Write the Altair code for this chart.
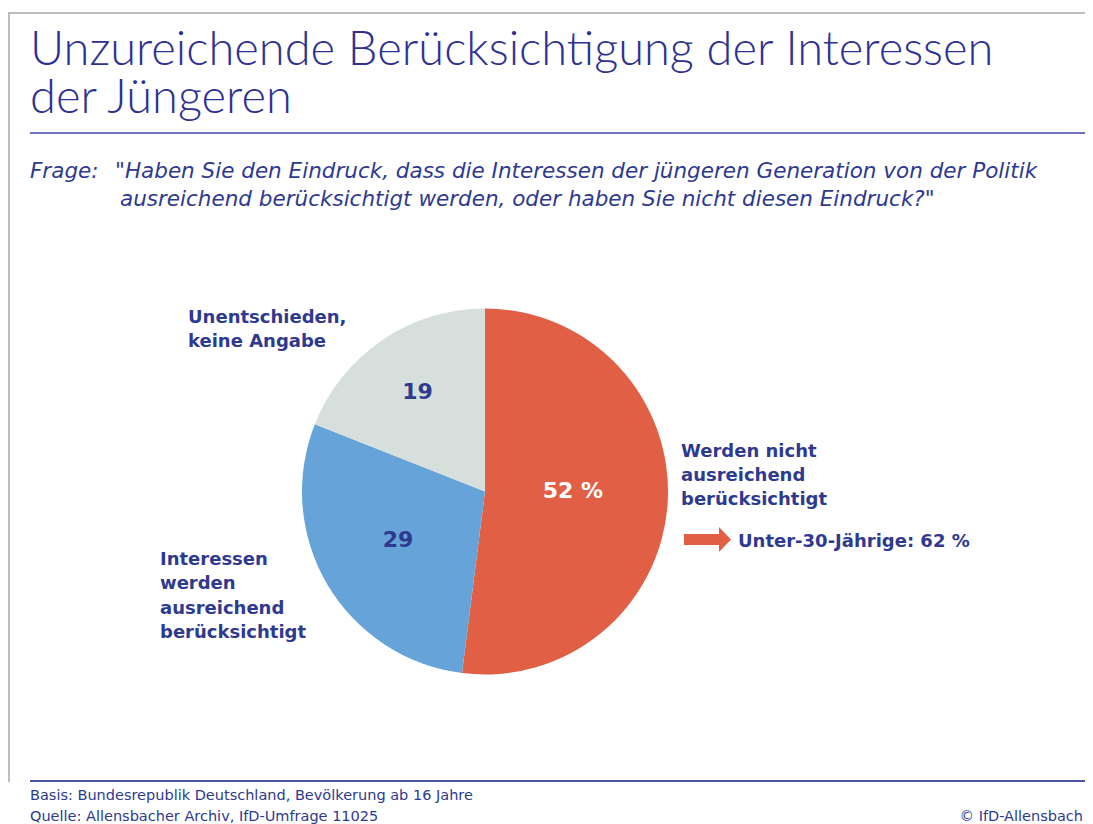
import altair as alt
import pandas as pd

# ---------------- data ----------------
categories = [
    "Werden nicht ausreichend berücksichtigt",
    "Interessen werden ausreichend berücksichtigt",
    "Unentschieden, keine Angabe",
]
values = [52, 29, 19]
value_labels = ["52 %", "29", "19"]
slice_colors = ["#E05F45", "#66A3D8", "#D6DFDB"]
label_text_colors = ["#FFFFFF", "#2E3A8F", "#2E3A8F"]

title_lines = ["Unzureichende Berücksichtigung der Interessen", "der Jüngeren"]
question_lead = "Frage:"
question_lines = [
    '"Haben Sie den Eindruck, dass die Interessen der jüngeren Generation von der Politik',
    'ausreichend berücksichtigt werden, oder haben Sie nicht diesen Eindruck?"',
]
label_nicht = ["Werden nicht", "ausreichend", "berücksichtigt"]
label_ja = ["Interessen", "werden", "ausreichend", "berücksichtigt"]
label_unent = ["Unentschieden,", "keine Angabe"]
sub_label = "Unter-30-Jährige: 62 %"
footer_lines = [
    "Basis: Bundesrepublik Deutschland, Bevölkerung ab 16 Jahre",
    "Quelle: Allensbacher Archiv, IfD-Umfrage 11025",
]
credit = "© IfD-Allensbach"

# ---------------- styles / layout ----------------
NAVY = "#2E3A8F"
TITLE_C = "#2E3192"
RED = slice_colors[0]
W, H = 1077, 816
OFF = 8  # page margin
CX, CY, R = 485 - OFF, 491.5 - OFF, 183
LABEL_RADII = [88, 101, 120]
LABEL_DY = [-6, -3, 0]

pie_df = pd.DataFrame({
    "idx": list(range(len(categories))),
    "category": categories,
    "value": values,
    "label": value_labels,
})
dummy = pd.DataFrame({"k": [0]})


def txt(text, x, y, size, weight="normal", style="normal", color=NAVY,
        font="DejaVu Sans", align="left", lh=None):
    kw = dict(text=text, align=align, baseline="alphabetic", font=font,
              fontSize=size, fontWeight=weight, fontStyle=style, color=color)
    if lh is not None:
        kw["lineHeight"] = lh
    return alt.Chart(dummy).mark_text(**kw).encode(
        x=alt.value(x - OFF), y=alt.value(y - OFF))


def hrule(x1, x2, y, color, sw):
    return alt.Chart(dummy).mark_rule(color=color, strokeWidth=sw).encode(
        x=alt.value(x1 - OFF), x2=alt.value(x2 - OFF), y=alt.value(y - OFF))


def vrule(x, y1, y2, color, sw):
    return alt.Chart(dummy).mark_rule(color=color, strokeWidth=sw).encode(
        x=alt.value(x - OFF), y=alt.value(y1 - OFF), y2=alt.value(y2 - OFF))


base = alt.Chart(pie_df).encode(
    theta=alt.Theta("value:Q", stack=True),
    order=alt.Order("idx:Q"),
    x=alt.value(CX),
    y=alt.value(CY),
)

pie = base.mark_arc(radius=R).encode(
    color=alt.Color("category:N",
                    scale=alt.Scale(domain=categories, range=slice_colors),
                    legend=None)
)

value_layers = []
for i, r in enumerate(LABEL_RADII):
    value_layers.append(
        base.transform_calculate(t=f"datum.idx == {i} ? datum.label : ''")
        .mark_text(radius=r, dy=LABEL_DY[i], font="DejaVu Sans", fontSize=22,
                   fontWeight="bold", color=label_text_colors[i],
                   align="center", baseline="middle")
        .encode(text="t:N")
    )

ARROW = "M-1,-0.234 L0.49,-0.234 L0.49,-0.53 L1,0 L0.49,0.53 L0.49,0.234 L-1,0.234 Z"
arrow = alt.Chart(dummy).mark_point(
    shape=ARROW, size=47 ** 2, filled=True, color=RED, opacity=1, strokeWidth=0
).encode(x=alt.value(707.5 - OFF), y=alt.value(539.5 - OFF))

layers = [
    hrule(8, 1093, 13, "#BDBDBD", 2),
    vrule(9, 13, 782, "#BDBDBD", 2),
    hrule(30, 1093, 133, "#6F73BD", 2),
    hrule(30, 1093, 781, "#4D52A5", 2),
    txt(title_lines[0], 30, 65, 47, weight=300, color=TITLE_C, font="Lato"),
    txt(title_lines[1], 30, 113, 47, weight=300, color=TITLE_C, font="Lato"),
    txt(question_lead, 30, 178, 21.5, style="italic"),
    txt(question_lines[0], 115, 178, 21.5, style="italic"),
    txt(question_lines[1], 120, 206, 21.5, style="italic"),
    pie,
    *value_layers,
    txt(label_unent, 188, 323, 18, weight="bold", lh=24),
    txt(label_nicht, 681, 457, 18, weight="bold", lh=24),
    txt(label_ja, 160, 565, 18, weight="bold", lh=24.3),
    arrow,
    txt(sub_label, 738, 547, 18, weight="bold"),
    txt(footer_lines[0], 30, 800, 14.5),
    txt(footer_lines[1], 30, 821, 14.5),
    txt(credit, 1083, 821, 14.5, align="right"),
]

chart = alt.layer(*layers).properties(
    width=W, height=H, padding=0, autosize="none"
).configure_view(stroke=None)

chart.save("out.html", embed_options={"renderer": "svg", "actions": False})
